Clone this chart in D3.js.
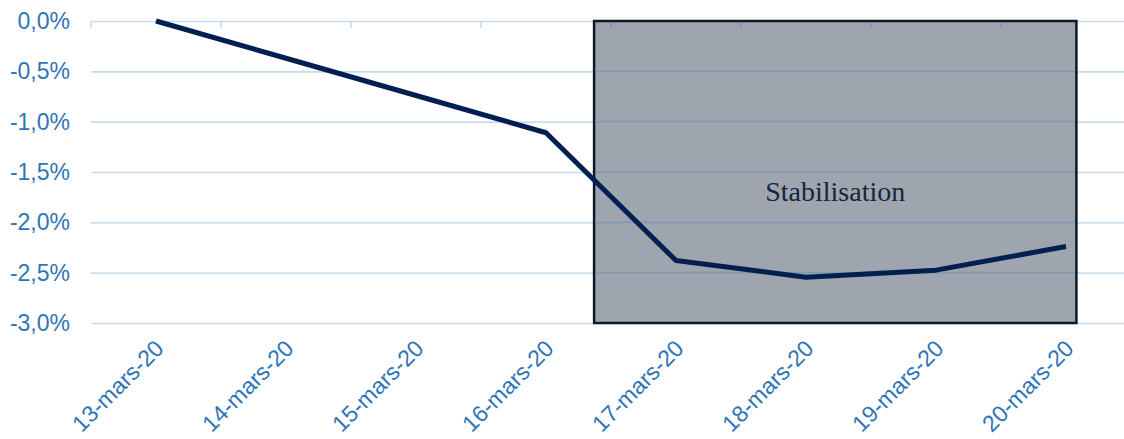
<!DOCTYPE html>
<html>
<head>
<meta charset="utf-8">
<script src="https://cdn.jsdelivr.net/npm/d3@7"></script>
<style>
  body { margin: 0; background: #fff; }
  svg { display: block; }
</style>
</head>
<body>
<svg></svg>
<script>
// Data
const categories = ['13-mars-20', '14-mars-20', '15-mars-20', '16-mars-20', '17-mars-20', '18-mars-20', '19-mars-20', '20-mars-20']
const values = [0, -0.37, -0.74, -1.11, -2.38, -2.545, -2.475, -2.24]
const yTicks = [0, -0.5, -1.0, -1.5, -2.0, -2.5, -3.0]
// shaded zone, in category index units / percent
const zone = { label: 'Stabilisation', from: 3.37, to: 7.08, top: 0, bottom: -3.0, labelAt: -1.79 }

const width = 1124
const height = 439
const svg = d3.select('svg').attr('width', width).attr('height', height)

const plotLeft = 91, plotRight = 1131, plotTop = 21, plotBottom = 323
const blue = '#2e75b6'

const xScale = d3.scaleBand().domain(categories).range([plotLeft, plotRight])
const xIdx = d3.scaleLinear().domain([0, 1]).range([plotLeft + xScale.bandwidth() / 2, plotLeft + xScale.bandwidth() * 1.5])
const yScale = d3.scaleLinear().domain([-3, 0]).range([plotBottom, plotTop])

const fmt = (d) => d3.format('.1f')(d).replace('−', '-').replace('.', ',') + '%'

// gridlines + y labels
const yAxis = d3.axisLeft(yScale).tickValues(yTicks).tickSize(-(width - plotLeft)).tickFormat(fmt).tickPadding(21)
const gy = svg.append('g').attr('transform', 'translate(' + plotLeft + ',0)').call(yAxis)
gy.select('.domain').remove()
gy.selectAll('line').attr('stroke', '#c6dcf0').attr('stroke-width', 1.6)
gy.selectAll('text').attr('fill', blue).style('font-family', 'Liberation Sans, Arial, sans-serif').style('font-size', '23px')

// category ticks hanging from the zero line
const xTop = d3.axisBottom(xScale).tickSize(7).tickFormat('')
const gt = svg.append('g').attr('transform', 'translate(0,' + plotTop + ')').call(xTop)
gt.select('.domain').remove()
gt.selectAll('.tick').attr('transform', (d) => 'translate(' + xScale(d) + ',0)')
gt.selectAll('line').attr('stroke', '#c6dcf0').attr('stroke-width', 1.6)

// x labels
svg.append('g').selectAll('text')
  .data(categories)
  .enter()
  .append('text')
  .attr('transform', (d) => 'translate(' + (xScale(d) + xScale.bandwidth() / 2 + 9) + ',' + (plotBottom + 27) + ') rotate(-45)')
  .attr('text-anchor', 'end')
  .attr('fill', blue)
  .style('font-family', 'Liberation Sans, Arial, sans-serif')
  .style('font-size', '23px')
  .text((d) => d)

// shaded zone
const zx0 = xIdx(zone.from), zx1 = xIdx(zone.to)
const zy0 = yScale(zone.top), zy1 = yScale(zone.bottom)
svg.append('rect')
  .attr('x', zx0).attr('y', zy0)
  .attr('width', zx1 - zx0).attr('height', zy1 - zy0)
  .attr('fill', '#9ea5af')
  .attr('stroke', '#0c1826')
  .attr('stroke-width', 2.5)

// gridlines seen through the zone
svg.append('clipPath').attr('id', 'zclip').append('rect')
  .attr('x', zx0 + 1.5).attr('y', zy0 + 1.5).attr('width', zx1 - zx0 - 3).attr('height', zy1 - zy0 - 3)
const gz = svg.append('g').attr('clip-path', 'url(#zclip)')
gz.selectAll('line.g')
  .data(yTicks)
  .enter()
  .append('line')
  .attr('x1', zx0).attr('x2', zx1)
  .attr('y1', (d) => yScale(d)).attr('y2', (d) => yScale(d))
  .attr('stroke', '#8198ad')
  .attr('stroke-width', 1.6)
gz.selectAll('line.t')
  .data(categories)
  .enter()
  .append('line')
  .attr('x1', (d) => xScale(d)).attr('x2', (d) => xScale(d))
  .attr('y1', plotTop).attr('y2', plotTop + 7)
  .attr('stroke', '#8198ad')
  .attr('stroke-width', 1.6)

svg.append('text')
  .attr('x', (zx0 + zx1) / 2)
  .attr('y', yScale(zone.labelAt))
  .attr('text-anchor', 'middle')
  .attr('fill', '#15263a')
  .style('font-family', 'Liberation Serif, Times New Roman, serif')
  .style('font-size', '28px')
  .text(zone.label)

// line
const line = d3.line()
  .x((d, i) => xScale(categories[i]) + xScale.bandwidth() / 2)
  .y((d) => yScale(d))
svg.append('path')
  .datum(values)
  .attr('d', line)
  .attr('fill', 'none')
  .attr('stroke', '#021f52')
  .attr('stroke-width', 5)
  .attr('stroke-linejoin', 'round')
</script>
</body>
</html>
